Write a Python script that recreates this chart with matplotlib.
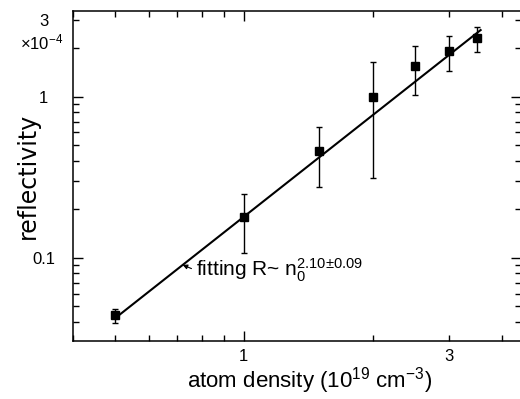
import matplotlib
matplotlib.use('Agg')
import matplotlib.pyplot as plt
from matplotlib.ticker import FixedLocator, FuncFormatter
import numpy as np

plt.rcParams['font.family'] = ['Liberation Sans', 'DejaVu Sans']
plt.rcParams['mathtext.fontset'] = 'custom'
plt.rcParams['mathtext.rm'] = 'Liberation Sans'
plt.rcParams['mathtext.it'] = 'Liberation Sans'
plt.rcParams['mathtext.default'] = 'regular'

# measured reflectivity (x1e-4) vs atom density (1e19 cm^-3)
density = np.array([0.5, 1.0, 1.5, 2.0, 2.5, 3.0, 3.5])
refl = np.array([0.044, 0.179, 0.463, 0.99, 1.55, 1.92, 2.32])
refl_hi = np.array([0.048, 0.25, 0.652, 1.647, 2.07, 2.37, 2.71])
refl_lo = np.array([0.0396, 0.107, 0.277, 0.315, 1.02, 1.45, 1.90])

# power-law fit R = A * n^p
fit_A = 0.18
fit_p = 2.10
fit_x = np.array([0.5, 3.56])

xticks_major = [1]
yticks_major = [0.1, 1]

fig = plt.figure(figsize=(5.2, 3.99), dpi=100)
ax = fig.add_axes([73/520, 1 - 341/399, 448/520, 330/399])

yerr = [refl - refl_lo, refl_hi - refl]
ax.errorbar(density, refl, yerr=yerr, fmt='s', color='black', ms=6,
            elinewidth=1.0, capsize=2.5, capthick=1.0)
ax.plot(fit_x, fit_A * fit_x ** fit_p, color='black', lw=1.5)

ax.set_xscale('log')
ax.set_yscale('log')
ax.set_xlim(0.4, 4.42)
ax.set_ylim(0.0305, 3.4)

ax.xaxis.set_major_locator(FixedLocator(xticks_major))
ax.xaxis.set_minor_locator(FixedLocator([0.4, 0.5, 0.6, 0.7, 0.8, 0.9, 2, 3, 4]))
ax.yaxis.set_major_locator(FixedLocator(yticks_major))
ax.yaxis.set_minor_locator(FixedLocator([0.04, 0.05, 0.06, 0.07, 0.08, 0.09,
                                         0.2, 0.3, 0.4, 0.5, 0.6, 0.7, 0.8, 0.9,
                                         2, 3]))

def major_fmt(v, pos):
    return '%g' % v

def minor_fmt(v, pos):
    return '3' if abs(v - 3) < 1e-6 else ''

ax.xaxis.set_major_formatter(FuncFormatter(major_fmt))
ax.xaxis.set_minor_formatter(FuncFormatter(minor_fmt))
ax.yaxis.set_major_formatter(FuncFormatter(major_fmt))
ax.yaxis.set_minor_formatter(FuncFormatter(minor_fmt))

ax.tick_params(which='both', direction='in', top=True, right=True, width=1.0)
ax.tick_params(which='major', length=7.5)
ax.tick_params(which='minor', length=4.3)
ax.tick_params(axis='x', which='both', pad=6, labelsize=12)
ax.tick_params(axis='y', which='both', pad=21, labelsize=12)
for lab in ax.get_yticklabels(which='both'):
    lab.set_horizontalalignment('center')

for s in ax.spines.values():
    s.set_linewidth(1.1)

ax.set_xlabel(r'atom density (10$^{19}$ cm$^{-3}$)', fontsize=16)
ax.xaxis.set_label_coords(0.527, -0.073)
ax.set_ylabel('reflectivity', fontsize=17, family=['DejaVu Sans'])
ax.yaxis.set_label_coords(-0.074, 0.5)

fig.text(63/520, 1 - 42/399, r'$\times$10$^{-4}$', fontsize=12,
         ha='right', va='center')

ax.annotate('', xy=(0.72, 0.0905), xytext=(0.755, 0.0858),
            arrowprops=dict(arrowstyle='-|>', color='black', lw=0.8,
                            mutation_scale=7, shrinkA=0, shrinkB=0))
ax.text(0.775, 0.0772, r'fitting R~ n$_0^{2.10{\pm}0.09}$', fontsize=15,
        ha='left', va='baseline')

fig.savefig('out.png', dpi=100)
